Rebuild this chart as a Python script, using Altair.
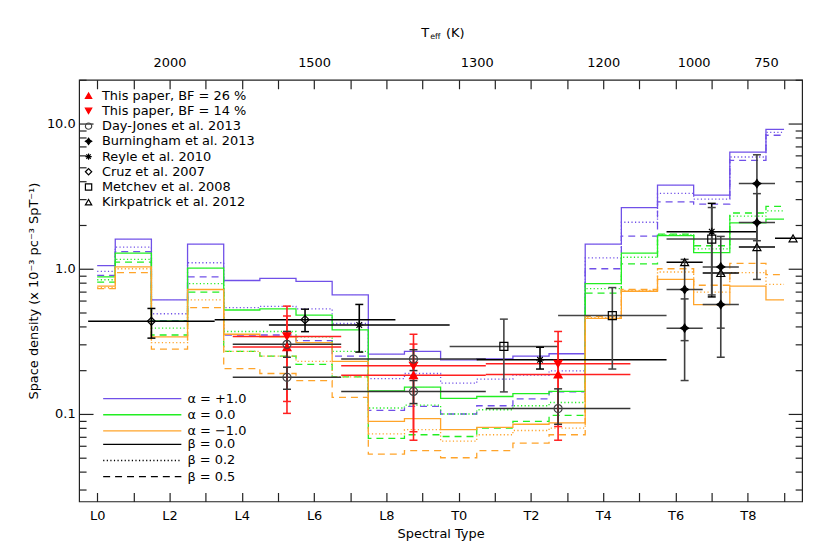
import json
import altair as alt
import pandas as pd

FONT = "DejaVu Sans"

# ---------------- axis data ----------------
spt_codes = list(range(20))
spt_labels = ["L0", "L1", "L2", "L3", "L4", "L5", "L6", "L7", "L8", "L9",
              "T0", "T1", "T2", "T3", "T4", "T5", "T6", "T7", "T8", "T9"]
teff_pos = [2, 6, 10.5, 14, 16.5, 18.5]
teff_labels = ["2000", "1500", "1300", "1200", "1000", "750"]
major_y = [0.1, 1, 10]
minor_y = [0.03, 0.04, 0.05, 0.06, 0.07, 0.08, 0.09,
           0.2, 0.3, 0.4, 0.5, 0.6, 0.7, 0.8, 0.9,
           2, 3, 4, 5, 6, 7, 8, 9, 20]

# ---------------- model step histograms ----------------
alpha_names = ["α = +1.0", "α = 0.0", "α = −1.0"]
beta_names = ["β = 0.0", "β = 0.2", "β = 0.5"]
alpha_colors = ["#7050e8", "#22ee22", "#ffa42a"]
beta_dashes = [[1, 0], [1.2, 2.4], [7, 5]]

ap1_b00 = [1.05, 1.60, 0.61, 1.48, 0.83, 0.86, 0.82, 0.66, 0.258, 0.27,
           0.236, 0.24, 0.25, 0.26, 1.48, 2.64, 3.76, 3.21, 6.35, 9.1]
ap1_b02 = [0.96, 1.41, 0.49, 1.10, 0.54, 0.55, 0.53, 0.42, 0.175, 0.19,
           0.163, 0.174, 0.185, 0.198, 1.19, 2.09, 3.30, 3.02, 5.88, 8.7]
ap1_b05 = [0.90, 1.31, 0.44, 0.88, 0.35, 0.35, 0.32, 0.25, 0.106, 0.113,
           0.100, 0.114, 0.127, 0.142, 1.00, 1.68, 2.89, 2.79, 5.57, 8.3]
a00_b00 = [0.88, 1.28, 0.435, 1.01, 0.52, 0.53, 0.48, 0.38, 0.144, 0.153,
           0.128, 0.132, 0.138, 0.143, 0.79, 1.28, 1.69, 1.29, 2.07, 2.2]
a00_b02 = [0.84, 1.16, 0.39, 0.79, 0.37, 0.37, 0.34, 0.27, 0.110, 0.115,
           0.100, 0.107, 0.114, 0.120, 0.73, 1.20, 1.71, 1.37, 2.30, 2.5]
a00_b05 = [0.81, 1.11, 0.35, 0.69, 0.27, 0.25, 0.22, 0.18, 0.068, 0.072,
           0.070, 0.080, 0.089, 0.098, 0.68, 1.08, 1.73, 1.44, 2.42, 2.69]
am1_b00 = [0.76, 1.03, 0.34, 0.72, 0.354, 0.34, 0.31, 0.23, 0.089, 0.093,
           0.078, 0.081, 0.085, 0.087, 0.455, 0.70, 0.845, 0.567, 0.76, 0.61]
am1_b02 = [0.74, 1.00, 0.31, 0.61, 0.27, 0.25, 0.23, 0.18, 0.073, 0.078,
           0.065, 0.072, 0.077, 0.080, 0.46, 0.71, 0.95, 0.69, 0.94, 0.78]
am1_b05 = [0.73, 0.94, 0.28, 0.54, 0.205, 0.19, 0.17, 0.13, 0.053, 0.056,
           0.050, 0.056, 0.063, 0.072, 0.47, 0.72, 1.00, 0.77, 1.09, 0.91]

series = [
    (alpha_names[0], beta_names[0], ap1_b00), (alpha_names[0], beta_names[1], ap1_b02),
    (alpha_names[0], beta_names[2], ap1_b05), (alpha_names[1], beta_names[0], a00_b00),
    (alpha_names[1], beta_names[1], a00_b02), (alpha_names[1], beta_names[2], a00_b05),
    (alpha_names[2], beta_names[0], am1_b00), (alpha_names[2], beta_names[1], am1_b02),
    (alpha_names[2], beta_names[2], am1_b05),
]
rows = []
for a, b, vals in series:
    for s, v in zip(spt_codes, vals):
        rows.append({"spt": s, "dens": v, "alpha": a, "beta": b, "series": a + "|" + b})
df_lines = pd.DataFrame(rows)

# ---------------- measurements ----------------
src_names = ["This paper, BF = 26 %", "This paper, BF = 14 %", "Day-Jones et al. 2013",
             "Burningham et al. 2013", "Reyle et al. 2010", "Cruz et al. 2007",
             "Metchev et al. 2008", "Kirkpatrick et al. 2012"]
STAR = "M0,-1L0.4,-0.4L1,0L0.4,0.4L0,1L-0.4,0.4L-1,0L-0.4,-0.4Z"
ASTER = "M0,-1L0,1M-1,0L1,0M-0.7,-0.7L0.7,0.7M-0.7,0.7L0.7,-0.7"
src_shapes = ["triangle-up", "triangle-down", "circle", STAR, ASTER, "diamond", "square", "triangle-up"]
src_fill = ["#ff0000", "#ff0000", "transparent", "#000000", "transparent", "transparent", "transparent", "transparent"]
src_stroke = ["#ff0000", "#ff0000", "#444444", "#000000", "#000000", "#000000", "#000000", "#000000"]
bar_colors = ["#ff2020", "#ff2020", "#333333", "#404040", "#000000", "#000000", "#444444", "#000000"]

pt_src = [0, 0, 0, 1, 1, 1, 2, 2, 2, 2, 2, 3, 3, 3, 3, 3, 3, 4, 4, 4, 5, 5, 6, 6, 6, 7, 7, 7, 7]
pt_x = [5.25, 8.75, 12.75, 5.25, 8.75, 12.75, 5.25, 5.25, 8.75, 8.75, 12.75,
        16.25, 16.25, 17.25, 17.25, 18.25, 18.25, 7.25, 12.25, 17.0, 1.5, 5.75,
        11.25, 14.25, 17.0, 16.25, 17.25, 18.25, 19.25]
pt_y = [0.289, 0.185, 0.187, 0.342, 0.215, 0.222, 0.302, 0.179, 0.239, 0.143, 0.109,
        0.72, 0.39, 1.03, 0.567, 3.86, 2.08, 0.41, 0.236, 1.8, 0.435, 0.446,
        0.292, 0.476, 1.6, 1.11, 0.935, 1.41, 1.62]
pt_ylo = [0.101, 0.066, 0.066, 0.122, 0.0755, 0.082, 0.246, 0.148, 0.199, 0.118, 0.085,
          0.32, 0.17, 0.39, 0.246, 1.56, 0.845, 0.267, 0.204, 0.64, 0.333, 0.369,
          0.142, 0.204, 0.66, None, None, None, None]
pt_yhi = [0.473, 0.303, 0.316, 0.553, 0.354, 0.37, 0.37, 0.21, 0.277, 0.17, 0.149,
          1.16, 0.62, 1.67, 0.92, 6.09, 3.29, 0.568, 0.288, 2.82, 0.533, 0.527,
          0.45, 0.742, 2.64, None, None, None, None]
pt_xlo = [3.75, 6.75, 10.75, 3.75, 6.75, 10.75, 3.75, 3.75, 6.75, 6.75, 10.75,
          15.75, 15.75, 16.75, 16.75, 17.75, 17.75, 4.75, 10.5, 15.75, -0.25, 3.25,
          9.75, 12.75, 15.75, 15.75, 16.75, 17.75, 18.75]
pt_xhi = [6.75, 10.75, 14.75, 6.75, 10.75, 14.75, 6.75, 6.75, 10.75, 10.75, 14.75,
          16.75, 16.75, 17.75, 17.75, 18.75, 18.75, 9.75, 15.75, 18.25, 3.25, 8.25,
          12.75, 15.75, 18.25, 16.75, 17.75, 18.75, 19.75]

df_pts = pd.DataFrame({
    "source": [src_names[i] for i in pt_src], "x": pt_x, "y": pt_y,
    "ylo": pt_ylo, "yhi": pt_yhi, "xlo": pt_xlo, "xhi": pt_xhi,
})
df_err = df_pts.dropna(subset=["ylo"]).reset_index(drop=True)
df_caps = pd.concat([
    df_err[["source", "x"]].assign(y=df_err["ylo"]),
    df_err[["source", "x"]].assign(y=df_err["yhi"]),
], ignore_index=True)

# ---------------- scales / axes ----------------
XS = alt.Scale(domain=[-0.5, 19.5], nice=False, zero=False)
YS = alt.Scale(type="log", domain=[0.025, 20], nice=False)

bottom_expr = ("round(datum.value) % 2 == 0 ? " + json.dumps(spt_labels, ensure_ascii=False)
               + "[round(datum.value)] : ''")
top_expr = (json.dumps(teff_labels) + "[indexof(" + json.dumps(teff_pos) + ", datum.value)]")

ax_bottom = alt.Axis(orient="bottom", values=spt_codes, labelExpr=bottom_expr, tickSize=9, offset=-9,
                     labelPadding=8, domain=False, grid=False, labelOverlap=False, labelFlush=False,
                     title="Spectral Type", titlePadding=5)
ax_left = alt.Axis(orient="left", values=major_y, labelExpr="format(datum.value, '.1f')", tickSize=14,
                   offset=-14, labelPadding=4, domain=False, grid=False, labelOverlap=False,
                   labelFlush=False, title="Space density (x 10⁻³ pc⁻³ SpT⁻¹)", titlePadding=6)
ax_top_ticks = alt.Axis(orient="top", values=spt_codes, labels=False, tickSize=9, offset=-9,
                        domain=False, grid=False, title=None)
ax_left_minor = alt.Axis(orient="left", values=minor_y, labels=False, tickSize=7, offset=-7,
                         domain=False, grid=False, title=None)
ax_top_labels = alt.Axis(orient="top", values=teff_pos, labelExpr=top_expr, ticks=False, labelPadding=10,
                         domain=False, grid=False, labelOverlap=False, labelFlush=False, title=None)
ax_right = alt.Axis(orient="right", values=major_y, labels=False, tickSize=14, offset=-14,
                    domain=False, grid=False, title=None)
ax_right_minor = alt.Axis(orient="right", values=minor_y, labels=False, tickSize=7, offset=-7,
                          domain=False, grid=False, title=None)

# ---------------- layers ----------------
leg_alpha = alt.Legend(orient="none", legendX=57, legendY=314, title=None, symbolType="M-10.6,0L10.6,0",
                       symbolSize=55, symbolStrokeWidth=1.3, labelOffset=39, rowPadding=2.3, padding=0,
                       labelFontSize=13, labelFont=FONT, labelColor="black")
leg_beta = alt.Legend(orient="none", legendX=57, legendY=360, title=None, symbolType="M-10.6,0L10.6,0",
                      symbolSize=55, symbolStrokeWidth=1.3, symbolStrokeColor="black", labelOffset=39,
                      rowPadding=2.3, padding=0, labelFontSize=13, labelFont=FONT, labelColor="black")

lines = alt.Chart(df_lines).mark_line(interpolate="step", strokeWidth=1.3, clip=True).encode(
    x=alt.X("spt:Q", scale=XS, axis=ax_bottom),
    y=alt.Y("dens:Q", scale=YS, axis=ax_left),
    color=alt.Color("alpha:N", scale=alt.Scale(domain=alpha_names, range=alpha_colors), legend=leg_alpha),
    strokeDash=alt.StrokeDash("beta:N", scale=alt.Scale(domain=beta_names, range=beta_dashes), legend=leg_beta),
    detail="series:N",
)

hbars = alt.Chart(df_pts).mark_rule(strokeWidth=1.5, clip=True).encode(
    x=alt.X("xlo:Q", scale=XS, axis=ax_top_ticks),
    x2="xhi:Q",
    y=alt.Y("y:Q", scale=YS, axis=ax_left_minor),
    stroke=alt.Stroke("source:N", scale=alt.Scale(domain=src_names, range=bar_colors), legend=None),
)

vbars = alt.Chart(df_err).mark_rule(strokeWidth=1.6, clip=True).encode(
    x=alt.X("x:Q", scale=XS, axis=ax_top_labels),
    y=alt.Y("ylo:Q", scale=YS, axis=ax_right),
    y2="yhi:Q",
    stroke=alt.Stroke("source:N", scale=alt.Scale(domain=src_names, range=bar_colors), legend=None),
)

caps = alt.Chart(df_caps).mark_tick(orient="horizontal", size=8, thickness=1.5, opacity=1).encode(
    x=alt.X("x:Q", scale=XS, axis=None),
    y=alt.Y("y:Q", scale=YS, axis=ax_right_minor),
    color=alt.Color("source:N", scale=alt.Scale(domain=src_names, range=bar_colors), legend=None),
)

leg_pts = alt.Legend(orient="none", legendX=3, legendY=9.5, title=None, symbolSize=40, symbolStrokeWidth=1.2,
                     labelOffset=7, rowPadding=1.3, padding=0, labelFontSize=13, labelFont=FONT,
                     labelColor="black", labelLimit=0)
points = alt.Chart(df_pts).mark_point(size=65, strokeWidth=1.2, opacity=1).encode(
    x=alt.X("x:Q", scale=XS, axis=None),
    y=alt.Y("y:Q", scale=YS, axis=None),
    shape=alt.Shape("source:N", scale=alt.Scale(domain=src_names, range=src_shapes), legend=leg_pts),
    fill=alt.Fill("source:N", scale=alt.Scale(domain=src_names, range=src_fill), legend=leg_pts),
    stroke=alt.Stroke("source:N", scale=alt.Scale(domain=src_names, range=src_stroke), legend=leg_pts),
)

title_df = pd.DataFrame({"t": ["T"]})
t_main = alt.Chart(title_df).mark_text(fontSize=13, font=FONT, align="center", baseline="middle").encode(
    text="t:N", x=alt.value(348), y=alt.value(-47))
t_sub = alt.Chart(title_df).mark_text(fontSize=8, font=FONT, align="left", baseline="middle",
                                      text="eff").encode(x=alt.value(353), y=alt.value(-43))
t_unit = alt.Chart(title_df).mark_text(fontSize=13, font=FONT, align="left", baseline="middle",
                                       text="(K)").encode(x=alt.value(369), y=alt.value(-47))

chart = alt.layer(lines, hbars, vbars, caps, points, t_main, t_sub, t_unit).resolve_scale(
    color="independent", stroke="independent", fill="independent", shape="independent",
    strokeDash="independent",
).resolve_axis(x="independent", y="independent").properties(
    width=727, height=424,
    padding={"left": 71.5, "top": 70.7, "right": 20, "bottom": 45},
    autosize=alt.AutoSizeParams(type="none"),
).configure_view(stroke="#222222", strokeWidth=1.2).configure_axis(
    labelFont=FONT, labelFontSize=13, labelColor="black", tickColor="#222222", tickWidth=1.2,
    titleFont=FONT, titleFontSize=13, titleFontWeight="normal", titleColor="black",
).configure_legend(labelFont=FONT)

chart.save("out.html", embed_options={"renderer": "svg", "actions": False})
